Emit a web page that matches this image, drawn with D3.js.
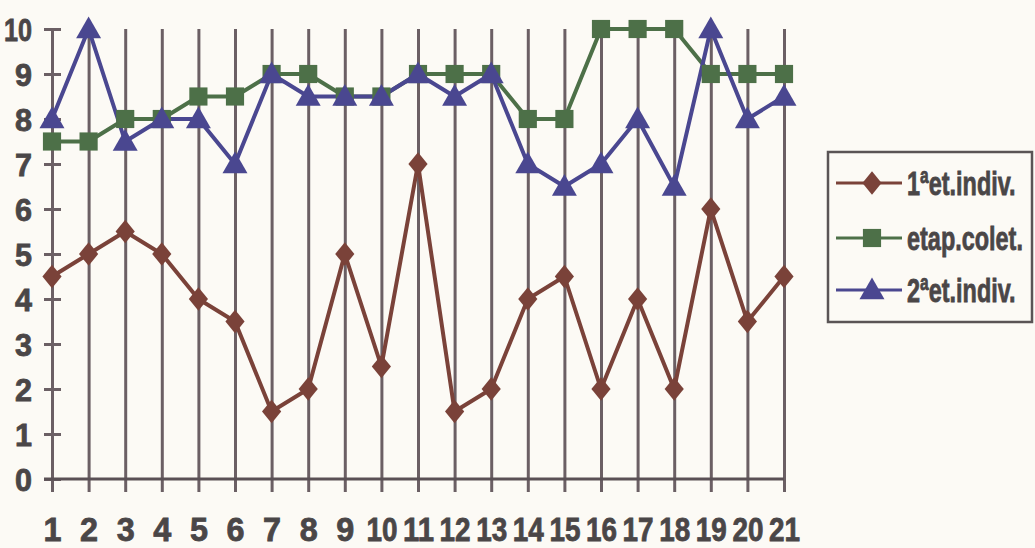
<!DOCTYPE html>
<html>
<head>
<meta charset="utf-8">
<script src="https://cdn.jsdelivr.net/npm/d3@7"></script>
<style>
  body { margin: 0; background: #fcfaf5; }
  svg { display: block; }
  text { font-family: "Liberation Sans", Arial, sans-serif; font-weight: bold; fill: #4a4647; }
</style>
</head>
<body>
<svg id="chart" width="1035" height="548"></svg>
<script>
// data
var categories = d3.range(1, 22).map(String);
var yTicks = [0, 1, 2, 3, 4, 5, 6, 7, 8, 9, 10];
var seriesNames = ['1ªet.indiv.', 'etap.colet.', '2ªet.indiv.'];
var indiv1 = [4.5, 5, 5.5, 5, 4, 3.5, 1.5, 2, 5, 2.5, 7, 1.5, 2, 4, 4.5, 2, 4, 2, 6, 3.5, 4.5];
var colet = [7.5, 7.5, 8, 8, 8.5, 8.5, 9, 9, 8.5, 8.5, 9, 9, 9, 8, 8, 10, 10, 10, 9, 9, 9];
var indiv2 = [8, 10, 7.5, 8, 8, 7, 9, 8.5, 8.5, 8.5, 9, 8.5, 9, 7, 6.5, 7, 8, 6.5, 10, 8, 8.5];

var colors = ['#7a4239', '#4d7048', '#4a4790'];
var symbols = [d3.symbolDiamond2, d3.symbolSquare, d3.symbolTriangle];
var symSizes = [290, 330, 270];
var symScale = ['scale(0.9,1.1)', '', ''];

var svg = d3.select('#chart');

var x = d3.scalePoint().domain(categories).range([52, 784]);
var y = d3.scaleLinear().domain([0, 10]).range([479, 29]);

var gridColor = '#6b5f64';
var textColor = '#4a4647';

function boldText(sel) {
  sel.style('font-family', '"Liberation Sans", Arial, sans-serif')
    .style('font-weight', 'bold')
    .style('fill', textColor)
    .style('stroke', textColor)
    .style('stroke-width', 0.8);
}

// vertical grid lines + x labels
var xAxis = svg.append('g')
  .attr('transform', 'translate(0,492)')
  .call(d3.axisBottom(x).tickSizeInner(-(492 - 29)).tickSizeOuter(0).tickPadding(40));
xAxis.select('.domain').remove();
xAxis.selectAll('line').attr('stroke', gridColor).attr('stroke-width', 3);
xAxis.selectAll('text')
  .attr('font-size', 33)
  .attr('dy', '0')
  .attr('y', 49)
  .call(boldText)
  .each(function (d) {
    if (d.length > 1) d3.select(this).attr('textLength', 31).attr('lengthAdjust', 'spacingAndGlyphs');
    else d3.select(this).attr('textLength', 18).attr('lengthAdjust', 'spacingAndGlyphs');
  });

// y axis with crossing ticks
var yAxis = svg.append('g')
  .attr('transform', 'translate(52,0)')
  .call(d3.axisLeft(y).tickValues(yTicks).tickSizeInner(8).tickSizeOuter(0).tickPadding(12));
yAxis.select('.domain').attr('stroke', gridColor).attr('stroke-width', 3);
yAxis.selectAll('line').attr('x1', 9).attr('x2', -8).attr('stroke', gridColor).attr('stroke-width', 3);
yAxis.selectAll('text')
  .attr('font-size', 32)
  .attr('dy', '0.36em')
  .call(boldText)
  .each(function (d) {
    if (d >= 10) d3.select(this).attr('textLength', 28).attr('lengthAdjust', 'spacingAndGlyphs');
    else d3.select(this).attr('textLength', 17).attr('lengthAdjust', 'spacingAndGlyphs');
  });

// x axis line
svg.append('line')
  .attr('x1', 44).attr('x2', x('21'))
  .attr('y1', y(0)).attr('y2', y(0))
  .attr('stroke', '#5a5055').attr('stroke-width', 3);

// series
var allSeries = [indiv1, colet, indiv2];
var line = d3.line()
  .x(function (d, i) { return x(categories[i]); })
  .y(function (d) { return y(d); });

allSeries.forEach(function (vals, s) {
  svg.append('path')
    .datum(vals)
    .attr('fill', 'none')
    .attr('stroke', colors[s])
    .attr('stroke-width', 4)
    .attr('stroke-linejoin', 'round')
    .attr('d', line);
});

allSeries.forEach(function (vals, s) {
  svg.append('g').selectAll('path')
    .data(vals)
    .enter().append('path')
    .attr('transform', function (d, i) {
      var dy = s === 2 ? 2 : 0;
      return 'translate(' + x(categories[i]) + ',' + (y(d) + dy) + ')' + symScale[s];
    })
    .attr('d', d3.symbol().type(symbols[s]).size(symSizes[s]))
    .attr('fill', colors[s]);
});

// legend
var legend = svg.append('g');
legend.append('rect')
  .attr('x', 828).attr('y', 152)
  .attr('width', 204).attr('height', 170)
  .attr('fill', '#fcfaf5')
  .attr('stroke', '#5a5455').attr('stroke-width', 2.5);

var rowY = [183, 238, 290];
seriesNames.forEach(function (name, s) {
  var g = legend.append('g').attr('transform', 'translate(0,' + rowY[s] + ')');
  g.append('line')
    .attr('x1', 836).attr('x2', 902)
    .attr('stroke', colors[s]).attr('stroke-width', 3);
  g.append('path')
    .attr('transform', 'translate(872,' + (s === 2 ? 2 : 0) + ')' + symScale[s])
    .attr('d', d3.symbol().type(symbols[s]).size(symSizes[s]))
    .attr('fill', colors[s]);
  g.append('text')
    .attr('transform', 'translate(907,0) scale(0.69,1)')
    .attr('dy', '0.36em')
    .attr('font-size', 34)
    .call(boldText)
    .text(name);
});
</script>
</body>
</html>
